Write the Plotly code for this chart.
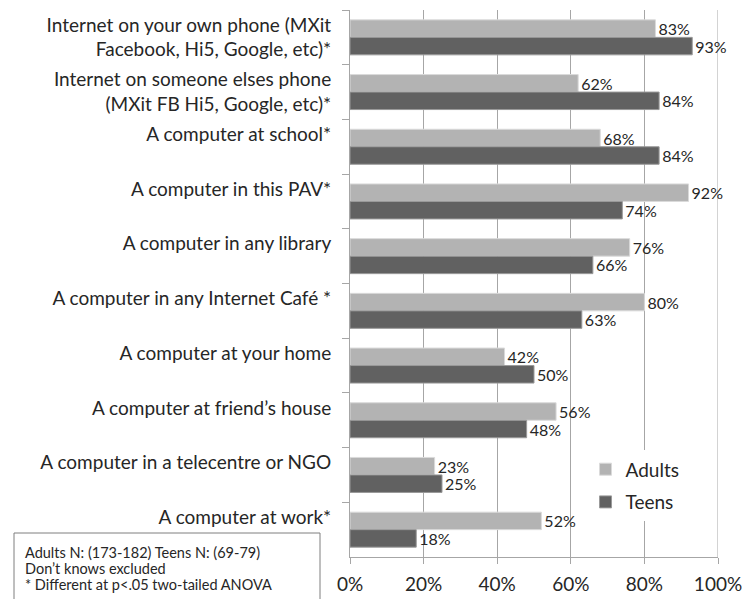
import plotly.graph_objects as go

categories = [
    "Internet on your own phone (MXit<br>Facebook, Hi5, Google, etc)*",
    "Internet on someone elses phone<br>(MXit FB Hi5, Google, etc)*",
    "A computer at school*<br> ",
    "A computer in this PAV*<br> ",
    "A computer in any library<br> ",
    "A computer in any Internet Café *<br> ",
    "A computer at your home<br> ",
    "A computer at friend’s house<br> ",
    "A computer in a telecentre or NGO<br> ",
    "A computer at work*<br> ",
]
adults = [0.83, 0.62, 0.68, 0.92, 0.76, 0.80, 0.42, 0.56, 0.23, 0.52]
teens = [0.93, 0.84, 0.84, 0.74, 0.66, 0.63, 0.50, 0.48, 0.25, 0.18]
tick_vals = [0, 0.2, 0.4, 0.6, 0.8, 1.0]
tick_text = ["0%", "20%", "40%", "60%", "80%", "100%"]
note_lines = [
    "Adults N: (173-182) Teens N: (69-79)",
    "Don’t knows excluded",
    "* Different at p<.05 two-tailed ANOVA",
]

FONT = "Lato"
TXT = "#262626"
GRID = "#A6A6A6"
fig = go.Figure()
fig.add_trace(go.Bar(
    y=categories, x=adults, orientation="h", name="Adults", legendgroup="a",
    marker=dict(color="#B3B3B3", line=dict(color="#DADADA", width=1)),
    text=[f"{round(v*100)}%" for v in adults], textposition="outside",
    textfont=dict(family=FONT, size=16, color=TXT),
    cliponaxis=False, constraintext="none",
))
fig.add_trace(go.Bar(
    y=categories, x=teens, orientation="h", name="Teens", legendgroup="t",
    marker=dict(color="#616161", line=dict(color="#9A9A9A", width=1)),
    text=[f"{round(v*100)}%" for v in teens], textposition="outside",
    textfont=dict(family=FONT, size=16, color=TXT),
    cliponaxis=False, constraintext="none",
))

fig.update_layout(
    width=742, height=599,
    margin=dict(l=350, r=24, t=10, b=42, autoexpand=False),
    barmode="group", bargap=0.36, bargroupgap=0.0,
    plot_bgcolor="white", paper_bgcolor="white",
    font=dict(family=FONT, size=19, color=TXT),
    showlegend=True,
    legend=dict(x=0.64, y=0.195, xanchor="left", yanchor="top",
                bgcolor="white", font=dict(family=FONT, size=19, color=TXT),
                itemwidth=30, tracegroupgap=5),
    xaxis=dict(range=[0, 1], tickvals=tick_vals, ticktext=tick_text, automargin=False,
               showgrid=True, gridcolor=GRID, gridwidth=1,
               showline=True, linecolor=GRID, ticks="outside", ticklen=6,
               tickcolor=GRID, tickfont=dict(family=FONT, size=19, color=TXT),
               ticklabeloverflow="allow", ticklabelstandoff=4,
               zeroline=False, fixedrange=True),
    yaxis=dict(autorange="reversed", showline=True, linecolor=GRID, automargin=False,
               ticks="outside", ticklen=7, tickcolor=GRID, tickson="boundaries",
               tickfont=dict(family=FONT, size=19, color=TXT),
               ticklabelstandoff=14, showgrid=False, fixedrange=True),
)

# gridline at the 100% end of the value axis
fig.add_shape(type="line", xref="x", yref="paper", x0=tick_vals[-1], x1=tick_vals[-1],
              y0=0, y1=1, line=dict(color=GRID, width=1), layer="below")

fig.add_shape(type="rect", xref="paper", yref="paper",
              x0=(14 - 350) / 368, x1=(320 - 350) / 368,
              y0=(557 - 620) / 547, y1=(557 - 533) / 547,
              line=dict(color="#7F7F7F", width=1), fillcolor="white", layer="above")
for i, line in enumerate(note_lines):
    fig.add_annotation(xref="paper", yref="paper",
                       x=(23 - 350) / 368, y=(557 - (552 + 16 * i)) / 547,
                       xanchor="left", yanchor="middle", showarrow=False,
                       text=line, font=dict(family=FONT, size=14.5, color=TXT))

fig.write_html("out.html", config={"displayModeBar": False},
               post_script="document.body.style.margin='0px';")
